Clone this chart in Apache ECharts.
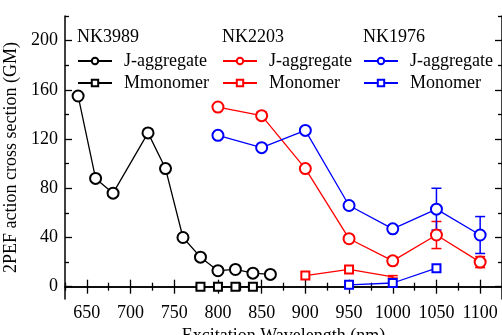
<!DOCTYPE html>
<html>
<head>
<meta charset="utf-8">
<script src="https://cdn.jsdelivr.net/npm/echarts@6/dist/echarts.min.js"></script>
<style>
	html, body { margin: 0; padding: 0; background: #fff; }
	#chart { width: 502px; height: 335px; }
</style>
</head>
<body>
<div id="chart"></div>
<script>
// wavelengths (nm) and 2PEF values (GM)
const nk3989AggX = [640, 660, 680, 720, 740, 760, 780, 800, 820, 840, 860]
const nk3989AggY = [155, 88, 76, 125, 96, 40, 24, 13, 14, 11, 10]
const nk3989MonoX = [780, 800, 820, 840]
const nk3989MonoY = [0, 0, 0, 0]

const nk2203AggX = [800, 850, 900, 950, 1000, 1050, 1100]
const nk2203AggY = [146, 139, 96, 39, 21, 42, 20]
const nk2203AggErr = [0, 3, 0, 3, 3, 11, 4.5]
const nk2203MonoX = [900, 950, 1000]
const nk2203MonoY = [9, 14, 8]
const nk2203MonoErr = [0, 0, 1]
const nk2203MonoHidden = [false, false, true] // marker not drawn at 1000 nm

const nk1976AggX = [800, 850, 900, 950, 1000, 1050, 1100]
const nk1976AggY = [123, 113, 127, 66, 47, 63, 42]
const nk1976AggErr = [0, 0, 0, 3, 0, 17, 15]
const nk1976MonoX = [950, 1000, 1050]
const nk1976MonoY = [1.5, 3, 15]

const xTicks = [650, 700, 750, 800, 850, 900, 950, 1000, 1050, 1100]
const yTicks = [0, 40, 80, 120, 160, 200]

const xMinor = xTicks.map(v => v + 25).concat([xTicks[0] - 25])
const yMinor = yTicks.map(v => v + 20).concat([yTicks[0] - 20])

const FONT = "'Liberation Serif', 'DejaVu Serif', serif"
const BLACK = '#000000'
const RED = '#ff0000'
const BLUE = '#0000ff'

const chart = echarts.init(document.getElementById('chart'), null, { renderer: 'canvas' })

const pairs = (xs, ys) => xs.map((x, i) => [x, ys[i]])

function lineSeries(name, xs, ys, color, symbol, size, hidden) {
	return {
		name: name,
		type: 'line',
		data: pairs(xs, ys),
		symbol: symbol,
		symbolSize: (val, params) => (hidden && hidden[params.dataIndex] ? 0 : size),
		showAllSymbol: true,
		lineStyle: { color: color, width: 1.3 },
		itemStyle: { color: color, borderColor: color, borderWidth: 1.5 },
		z: 3,
	}
}

function errorSeries(xs, ys, errs, color) {
	const data = xs
		.map((x, i) => [x, ys[i] - errs[i], ys[i] + errs[i], errs[i]])
		.filter(d => d[3] > 0)
	return {
		type: 'custom',
		data: data,
		encode: { x: 0, y: [1, 2] },
		z: 2,
		renderItem: (params, api) => {
			const lo = api.coord([api.value(0), api.value(1)])
			const hi = api.coord([api.value(0), api.value(2)])
			const w = 5
			const style = { stroke: color, lineWidth: 1.5 }
			return {
				type: 'group',
				children: [
					{ type: 'line', shape: { x1: hi[0], y1: hi[1], x2: lo[0], y2: lo[1] }, style: style },
					{ type: 'line', shape: { x1: hi[0] - w, y1: hi[1], x2: hi[0] + w, y2: hi[1] }, style: style },
					{ type: 'line', shape: { x1: lo[0] - w, y1: lo[1], x2: lo[0] + w, y2: lo[1] }, style: style },
				],
			}
		},
	}
}

const lineAxis = { show: true, lineStyle: { color: BLACK, width: 1.5 } }
const noLine = { show: false }

function xAxis(position, major) {
	return {
		type: 'value',
		position: position,
		min: 625,
		max: 1125,
		axisLine: major ? lineAxis : noLine,
		axisTick: {
			show: true,
			inside: true,
			length: major ? 7 : 4,
			lineStyle: { color: BLACK, width: 1.3 },
			customValues: major ? xTicks : xMinor,
		},
		axisLabel: {
			show: major && position === 'bottom',
			customValues: xTicks,
			formatter: v => String(v),
			margin: 5,
			color: BLACK,
			fontFamily: FONT,
			fontSize: 18,
		},
		splitLine: { show: false },
		name: major && position === 'bottom' ? 'Excitation Wavelength (nm)' : '',
		nameLocation: 'middle',
		nameGap: 27,
		nameTextStyle: { color: BLACK, fontFamily: FONT, fontSize: 18 },
	}
}

function yAxis(position, major) {
	return {
		type: 'value',
		position: position,
		min: -10,
		max: 220,
		axisLine: major ? lineAxis : noLine,
		axisTick: {
			show: true,
			inside: true,
			length: major ? 7 : 4,
			lineStyle: { color: BLACK, width: 1.3 },
			customValues: major ? yTicks : yMinor,
		},
		axisLabel: {
			show: major && position === 'left',
			customValues: yTicks,
			formatter: v => String(v),
			margin: 7,
			color: BLACK,
			fontFamily: FONT,
			fontSize: 18,
		},
		splitLine: { show: false },
		name: major && position === 'left' ? '2PEF action cross section (GM)' : '',
		nameLocation: 'middle',
		nameGap: 34,
		nameTextStyle: { color: BLACK, fontFamily: FONT, fontSize: 18 },
	}
}

function legend(left, names) {
	return {
		left: left,
		top: 52,
		orient: 'vertical',
		padding: 0,
		itemGap: 4,
		itemWidth: 34,
		itemHeight: 8,
		selectedMode: false,
		data: names,
		formatter: name => name.split('|')[1],
		textStyle: { color: BLACK, fontFamily: FONT, fontSize: 18, padding: [0, 0, 0, 7] },
	}
}

function heading(left, text) {
	return {
		text: text,
		left: left,
		top: 28,
		padding: 0,
		textStyle: { color: BLACK, fontFamily: FONT, fontSize: 18, fontWeight: 'normal' },
	}
}

const option = {
	animation: false,
	backgroundColor: '#ffffff',
	title: [heading(77, 'NK3989'), heading(222, 'NK2203'), heading(363, 'NK1976')],
	legend: [
		legend(77, ['NK3989|J-aggregate', 'NK3989|Mmonomer']),
		legend(222, ['NK2203|J-aggregate', 'NK2203|Monomer']),
		legend(363, ['NK1976|J-aggregate', 'NK1976|Monomer']),
	],
	grid: { left: 65, right: 0, top: 16, bottom: 36, containLabel: false, outerBoundsMode: 'none' },
	xAxis: [xAxis('bottom', true), xAxis('bottom', false), xAxis('top', true), xAxis('top', false)],
	yAxis: [yAxis('left', true), yAxis('left', false), yAxis('right', true), yAxis('right', false)],
	series: [
		errorSeries(nk2203AggX, nk2203AggY, nk2203AggErr, RED),
		errorSeries(nk2203MonoX, nk2203MonoY, nk2203MonoErr, RED),
		errorSeries(nk1976AggX, nk1976AggY, nk1976AggErr, BLUE),
		lineSeries('NK3989|J-aggregate', nk3989AggX, nk3989AggY, BLACK, 'emptyCircle', 11),
		lineSeries('NK3989|Mmonomer', nk3989MonoX, nk3989MonoY, BLACK, 'emptyRect', 8),
		lineSeries('NK2203|J-aggregate', nk2203AggX, nk2203AggY, RED, 'emptyCircle', 11),
		lineSeries('NK2203|Monomer', nk2203MonoX, nk2203MonoY, RED, 'emptyRect', 8, nk2203MonoHidden),
		lineSeries('NK1976|J-aggregate', nk1976AggX, nk1976AggY, BLUE, 'emptyCircle', 11),
		lineSeries('NK1976|Monomer', nk1976MonoX, nk1976MonoY, BLUE, 'emptyRect', 8),
	],
}

chart.setOption(option)
</script>
</body>
</html>
